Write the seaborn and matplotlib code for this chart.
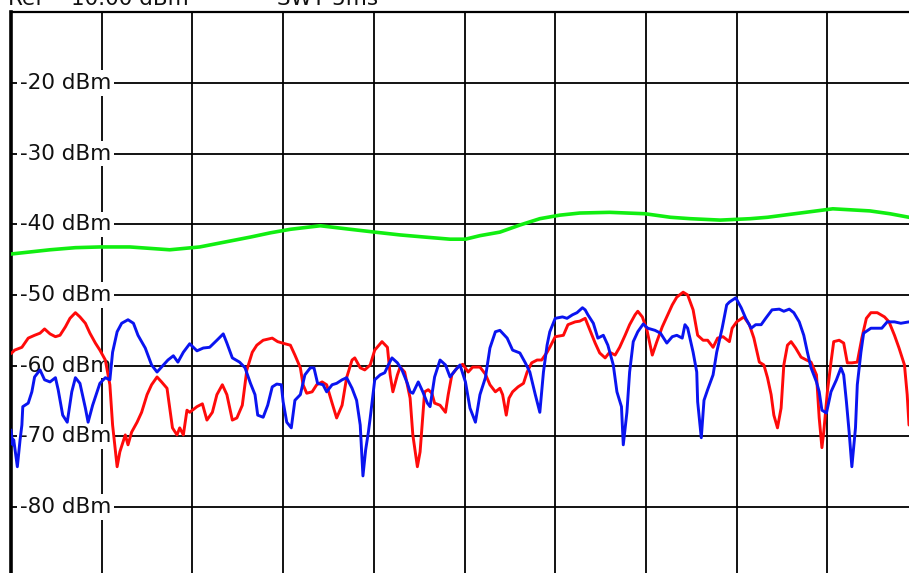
import matplotlib
matplotlib.use("Agg")
import matplotlib.pyplot as plt
import seaborn as sns
import pandas as pd

# Max-hold envelope (green), trace 1 (red) and trace 2 (blue); x in screen divisions, y in dBm
green_x = [0.0, 0.43, 0.71, 0.98, 1.31, 1.53, 1.75, 2.08, 2.36, 2.64, 2.86, 3.08, 3.41, 3.74, 4.01,
           4.29, 4.56, 4.84, 5.01, 5.17, 5.39, 5.61, 5.83, 6.05, 6.27, 6.60, 6.99, 7.27, 7.49, 7.82,
           8.15, 8.34, 8.70, 9.06, 9.47, 9.69, 9.90]
green_y = [-44.2, -43.6, -43.3, -43.2, -43.2, -43.4, -43.6, -43.2, -42.5, -41.8, -41.2, -40.7, -40.2, -40.7, -41.1,
           -41.5, -41.8, -42.1, -42.1, -41.6, -41.1, -40.1, -39.2, -38.7, -38.4, -38.3, -38.5, -39.0, -39.2, -39.4,
           -39.2, -39.0, -38.4, -37.8, -38.1, -38.5, -39.0]

red_x = [0.0, 0.04, 0.12, 0.19, 0.26, 0.32, 0.37, 0.43, 0.49, 0.54, 0.60, 0.65, 0.71, 0.76, 0.82,
         0.87, 0.93, 0.98, 1.04, 1.09, 1.12, 1.17, 1.20, 1.26, 1.29, 1.33, 1.39, 1.44, 1.50, 1.55,
         1.61, 1.66, 1.72, 1.78, 1.83, 1.86, 1.90, 1.94, 1.97, 2.05, 2.11, 2.16, 2.22, 2.27, 2.33,
         2.38, 2.44, 2.49, 2.55, 2.60, 2.66, 2.71, 2.78, 2.88, 2.94, 3.02, 3.08, 3.13, 3.19, 3.22,
         3.26, 3.32, 3.37, 3.43, 3.48, 3.54, 3.59, 3.65, 3.70, 3.76, 3.79, 3.85, 3.90, 3.96, 4.01,
         4.09, 4.15, 4.18, 4.21, 4.26, 4.29, 4.34, 4.40, 4.43, 4.48, 4.51, 4.54, 4.56, 4.60, 4.64,
         4.67, 4.73, 4.79, 4.82, 4.86, 4.92, 4.98, 5.04, 5.09, 5.17, 5.23, 5.28, 5.34, 5.39, 5.42,
         5.46, 5.49, 5.53, 5.59, 5.65, 5.69, 5.74, 5.80, 5.85, 5.91, 5.94, 6.00, 6.09, 6.14, 6.22,
         6.27, 6.33, 6.38, 6.44, 6.49, 6.55, 6.60, 6.66, 6.71, 6.77, 6.82, 6.88, 6.91, 6.96, 7.01,
         7.07, 7.12, 7.18, 7.23, 7.29, 7.34, 7.41, 7.46, 7.52, 7.57, 7.63, 7.68, 7.74, 7.79, 7.85,
         7.92, 7.95, 8.00, 8.08, 8.14, 8.19, 8.25, 8.30, 8.34, 8.38, 8.41, 8.45, 8.49, 8.52, 8.56,
         8.60, 8.65, 8.71, 8.77, 8.82, 8.88, 8.91, 8.94, 8.96, 9.00, 9.04, 9.07, 9.13, 9.18, 9.22,
         9.27, 9.33, 9.38, 9.43, 9.48, 9.55, 9.63, 9.68, 9.74, 9.79, 9.85, 9.88, 9.90]
red_y = [-58.3, -57.8, -57.4, -56.1, -55.7, -55.4, -54.8, -55.5, -55.9, -55.7, -54.5, -53.3, -52.5, -53.1, -54.0,
         -55.4, -56.8, -57.8, -59.2, -62.7, -68.4, -74.3, -72.2, -69.8, -71.2, -69.4, -68.0, -66.6, -64.1, -62.7,
         -61.6, -62.3, -63.2, -68.8, -69.8, -68.8, -69.8, -66.3, -66.6, -65.8, -65.4, -67.7, -66.6, -64.1, -62.7,
         -64.1, -67.7, -67.4, -65.6, -60.6, -58.1, -57.1, -56.4, -56.1, -56.6, -56.9, -57.1, -58.5, -60.3, -62.7,
         -63.9, -63.7, -62.7, -62.3, -62.7, -65.3, -67.4, -65.6, -61.7, -59.2, -58.9, -60.3, -60.6, -59.9, -57.8,
         -56.6, -57.4, -61.3, -63.7, -61.3, -60.2, -60.9, -64.6, -69.8, -74.3, -72.2, -67.0, -63.7, -63.4, -63.9,
         -65.3, -65.6, -66.6, -64.1, -61.3, -60.3, -59.8, -60.9, -60.2, -60.2, -61.2, -62.7, -63.7, -63.2, -64.1,
         -67.0, -64.6, -63.7, -63.0, -62.5, -60.9, -59.6, -59.2, -59.2, -58.1, -57.4, -55.9, -55.7, -54.2, -53.8,
         -53.7, -53.3, -54.9, -56.8, -58.2, -58.9, -58.1, -58.5, -57.4, -55.7, -54.2, -52.8, -52.3, -53.1, -54.9,
         -58.5, -56.6, -54.5, -53.1, -51.4, -50.3, -49.6, -50.0, -52.1, -55.7, -56.4, -56.4, -57.4, -56.1, -55.9,
         -56.6, -54.7, -53.8, -53.1, -54.2, -56.1, -59.5, -59.9, -61.7, -64.1, -67.0, -68.8, -66.0, -59.9, -57.1,
         -56.6, -57.5, -58.8, -59.2, -59.5, -61.3, -67.4, -71.6, -69.4, -63.7, -59.5, -56.6, -56.4, -56.8, -59.6,
         -59.6, -59.5, -56.1, -53.3, -52.5, -52.5, -53.1, -53.8, -55.7, -57.5, -59.9, -64.1, -68.4]

blue_x = [0.0, 0.02, 0.03, 0.07, 0.10, 0.12, 0.13, 0.19, 0.23, 0.26, 0.32, 0.37, 0.43, 0.49, 0.52,
          0.57, 0.62, 0.67, 0.71, 0.76, 0.82, 0.85, 0.90, 0.98, 1.04, 1.09, 1.12, 1.17, 1.22, 1.29,
          1.35, 1.40, 1.48, 1.55, 1.61, 1.66, 1.73, 1.79, 1.84, 1.90, 1.97, 2.05, 2.12, 2.19, 2.27,
          2.34, 2.38, 2.44, 2.52, 2.58, 2.64, 2.69, 2.72, 2.78, 2.83, 2.88, 2.93, 2.98, 3.00, 3.04,
          3.09, 3.13, 3.19, 3.24, 3.30, 3.34, 3.38, 3.44, 3.48, 3.54, 3.59, 3.65, 3.70, 3.76, 3.81,
          3.85, 3.88, 3.91, 3.94, 3.96, 4.01, 4.07, 4.12, 4.16, 4.20, 4.26, 4.31, 4.37, 4.40, 4.43,
          4.49, 4.54, 4.59, 4.62, 4.67, 4.73, 4.79, 4.84, 4.90, 4.95, 5.01, 5.06, 5.12, 5.17, 5.23,
          5.28, 5.34, 5.39, 5.47, 5.53, 5.61, 5.67, 5.72, 5.78, 5.83, 5.87, 5.91, 5.94, 6.00, 6.08,
          6.13, 6.19, 6.24, 6.30, 6.33, 6.36, 6.42, 6.47, 6.53, 6.58, 6.64, 6.68, 6.73, 6.75, 6.79,
          6.82, 6.86, 6.91, 6.97, 7.02, 7.10, 7.16, 7.23, 7.29, 7.34, 7.40, 7.43, 7.46, 7.52, 7.56,
          7.57, 7.61, 7.64, 7.68, 7.74, 7.78, 7.84, 7.89, 7.92, 7.99, 8.05, 8.10, 8.16, 8.21, 8.27,
          8.32, 8.39, 8.47, 8.52, 8.58, 8.63, 8.69, 8.74, 8.78, 8.82, 8.88, 8.91, 8.94, 8.99, 9.04,
          9.10, 9.15, 9.18, 9.21, 9.24, 9.27, 9.31, 9.33, 9.37, 9.40, 9.48, 9.55, 9.60, 9.66, 9.74,
          9.81, 9.90]
blue_y = [-69.1, -71.2, -70.5, -74.3, -70.5, -68.4, -65.8, -65.3, -63.7, -61.6, -60.6, -62.0, -62.3, -61.7, -63.4,
          -67.0, -68.0, -63.7, -61.7, -62.5, -66.0, -68.0, -65.6, -62.5, -61.7, -62.0, -58.1, -55.2, -54.0, -53.5,
          -54.0, -55.7, -57.5, -59.9, -60.9, -60.2, -59.2, -58.6, -59.5, -58.1, -56.9, -57.9, -57.5, -57.4, -56.4,
          -55.5, -56.8, -58.9, -59.5, -60.3, -62.5, -64.1, -67.0, -67.3, -65.6, -63.0, -62.6, -62.7, -65.1, -68.0,
          -68.8, -64.9, -64.1, -61.3, -60.3, -60.3, -62.5, -62.7, -63.7, -62.7, -62.5, -62.0, -61.7, -63.2, -64.9,
          -68.4, -75.6, -71.9, -69.4, -67.4, -62.0, -61.3, -61.0, -59.9, -58.9, -59.6, -60.6, -62.5, -63.7, -63.9,
          -62.3, -63.7, -65.3, -65.8, -61.6, -59.2, -59.9, -61.6, -60.6, -59.9, -62.3, -66.0, -68.0, -64.1, -61.7,
          -57.5, -55.2, -55.0, -56.1, -57.8, -58.2, -59.6, -60.9, -64.1, -66.6, -60.9, -57.1, -55.2, -53.3, -53.1,
          -53.3, -52.8, -52.5, -51.8, -52.1, -52.8, -54.0, -56.1, -55.7, -57.1, -59.9, -63.7, -65.8, -71.2, -66.6,
          -60.9, -56.6, -55.2, -54.1, -54.7, -55.0, -55.4, -56.8, -55.9, -55.7, -56.1, -54.2, -54.7, -58.1, -60.9,
          -65.1, -70.2, -64.9, -63.4, -61.3, -58.1, -54.7, -51.4, -51.0, -50.4, -51.8, -53.3, -54.7, -54.2, -54.2,
          -53.3, -52.1, -52.0, -52.3, -52.0, -52.5, -53.8, -55.7, -58.1, -60.3, -62.3, -63.7, -66.3, -66.7, -63.7,
          -62.0, -60.3, -61.3, -65.1, -69.4, -74.3, -68.8, -62.7, -58.1, -55.4, -54.7, -54.7, -54.7, -53.8, -53.8,
          -54.0, -53.8]

level_ticks = [-20, -30, -40, -50, -60, -70, -80]
level_labels = ["-20 dBm", "-30 dBm", "-40 dBm", "-50 dBm", "-60 dBm", "-70 dBm", "-80 dBm"]
freq_divs = [1, 2, 3, 4, 5, 6, 7, 8, 9]

sns.set_theme(style="white")
plt.rcParams["font.family"] = ["DejaVu Sans"]

fig = plt.figure(figsize=(9.09, 5.73), dpi=100)
fig.patch.set_facecolor("white")
ax = fig.add_axes([11 / 909, 0.0, 898 / 909, 561 / 573])
ax.set_facecolor("white")
ax.set_xlim(0, 9.90)
ax.set_ylim(-89.34, -9.95)

# graticule
for xv in freq_divs:
    ax.axvline(xv, color="black", lw=1.3, zorder=1)
for yv in level_ticks:
    ax.axhline(yv, color="black", lw=1.3, zorder=1)

# level labels sit inside the screen on a white patch
for yv, lab in zip(level_ticks, level_labels):
    ax.text(0.10, yv, lab, fontsize=15.5, color="#111111", ha="left", va="center",
            zorder=2, bbox=dict(boxstyle="square,pad=0.12", fc="white", ec="none"))

df_g = pd.DataFrame({"f": green_x, "p": green_y})
df_r = pd.DataFrame({"f": red_x, "p": red_y})
df_b = pd.DataFrame({"f": blue_x, "p": blue_y})
sns.lineplot(data=df_g, x="f", y="p", color="#11ee11", lw=2.6, sort=False, estimator=None, ax=ax, zorder=3)
sns.lineplot(data=df_r, x="f", y="p", color="#ff0a0a", lw=2.1, sort=False, estimator=None, ax=ax, zorder=4)
sns.lineplot(data=df_b, x="f", y="p", color="#0a14f0", lw=2.1, sort=False, estimator=None, ax=ax, zorder=5)

ax.set_xticks([])
ax.set_yticks([])
ax.set_xlabel("")
ax.set_ylabel("")
for side in ["right", "bottom"]:
    ax.spines[side].set_visible(False)
ax.spines["left"].set_color("black")
ax.spines["left"].set_linewidth(2.6)
ax.spines["top"].set_color("black")
ax.spines["top"].set_linewidth(1.6)

# header line, mostly scrolled off the top edge
fig.text(8 / 909, 1 - 5 / 573, "Ref   -10.00 dBm", fontsize=15.5, color="#111111", ha="left", va="baseline")
fig.text(277 / 909, 1 - 5 / 573, "SWT 5ms", fontsize=15.5, color="#111111", ha="left", va="baseline")

fig.savefig("out.png", dpi=100, facecolor="white")
